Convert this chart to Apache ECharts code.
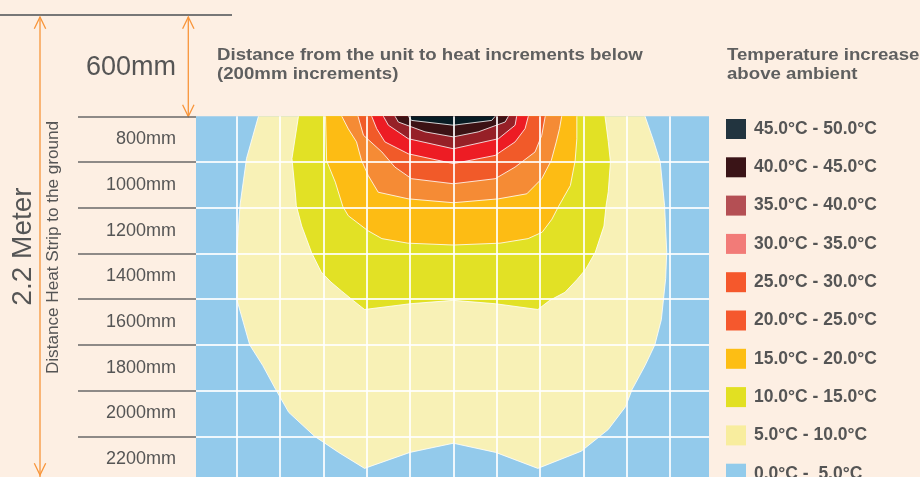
<!DOCTYPE html>
<html>
<head>
<meta charset="utf-8">
<style>
html,body{margin:0;padding:0;background:#fdefe3;}
#chart{width:920px;height:477px;}
</style>
<script src="https://cdn.jsdelivr.net/npm/echarts@6/dist/echarts.min.js"></script>
</head>
<body>
<div id="chart"></div>
<script>
// ---- data (mm) ----
const rowLabels = ['800mm','1000mm','1200mm','1400mm','1600mm','1800mm','2000mm','2200mm'];
const legendLabels = ['45.0°C - 50.0°C','40.0°C - 45.0°C','35.0°C - 40.0°C','30.0°C - 35.0°C','25.0°C - 30.0°C','20.0°C - 25.0°C','15.0°C - 20.0°C','10.0°C - 15.0°C','5.0°C - 10.0°C','0.0°C -  5.0°C'];

// contour boundaries: [horizontal offset from unit (mm), distance below strip (mm)]
const band0to5 = [[-1188,600],[1180,600],[1180,2200],[-1188,2200]];
const band5to10 = [[-900,600],[-955,785],[-985,990],[-1000,1195],[-1000,1400],[-970,1500],[-940,1600],[-880,1690],[-820,1795],[-760,1895],[-640,2000],[-530,2070],[-410,2140],[-200,2070],[0,2030],[195,2070],[390,2140],[590,2065],[715,1970],[795,1870],[825,1795],[885,1690],[930,1600],[960,1490],[980,1310],[985,1195],[975,990],[955,800],[925,710],[885,600]];
const band10to15 = [[-715,600],[-745,785],[-730,930],[-725,990],[-700,1080],[-655,1195],[-610,1281],[-565,1325],[-515,1365],[-470,1400],[-410,1445],[-200,1420],[0,1405],[195,1420],[390,1445],[445,1405],[515,1370],[570,1315],[610,1270],[655,1195],[695,1080],[705,990],[715,930],[725,800],[715,710],[700,600]];
const band15to20 = [[-590,600],[-585,795],[-545,888],[-510,995],[-485,1035],[-395,1100],[-330,1135],[-210,1155],[0,1163],[215,1155],[345,1135],[410,1107],[455,1050],[485,995],[540,903],[562,795],[570,698],[570,600]];
const band20to25 = [[-515,600],[-485,655],[-447,712],[-424,793],[-393,859],[-347,932],[-208,961],[0,978],[208,961],[339,939],[408,873],[452,793],[475,712],[490,654],[500,600]];
const band25to30 = [[-440,600],[-415,683],[-330,756],[-270,822],[-193,873],[0,895],[193,873],[285,822],[377,756],[408,683],[424,600]];
const band30to35 = [[-377,600],[-354,654],[-316,712],[-208,764],[0,807],[193,771],[285,712],[331,654],[346,600]];
const band35to40 = [[-323,600],[-300,639],[-208,698],[0,742],[208,698],[285,639],[292,600]];
const band40to45 = [[-269,600],[-254,625],[-131,668],[0,690],[115,668],[239,625],[254,600]];
const band45to50 = [[-208,600],[-193,618],[0,639],[177,618],[193,600]];

// ---- styling ----
const FONT = '"Liberation Sans", Arial, sans-serif';
const mapColors = ['#93caeb','#f8f1b6','#e2e125','#fdbc14','#f58b35','#f15a29','#ed1c24','#962027','#3b1214','#071c24'];
const keyColors = ['#92cbeb','#f8ed9e','#e2e022','#fdbe14','#f5582d','#f5582c','#f27b78','#b44f54','#3a1417','#22343f'];
const contours = [band0to5, band5to10, band10to15, band15to20, band20to25, band25to30, band30to35, band35to40, band40to45, band45to50];
const names = legendLabels.slice().reverse();

function polySeries(i) {
  const pts = contours[i];
  const outline = i > 0;
  return {
    type: 'custom',
    name: names[i],
    coordinateSystem: 'cartesian2d',
    xAxisIndex: 0, yAxisIndex: 0,
    silent: true,
    animation: false,
    z: 2 + i * 0.01,
    itemStyle: { color: mapColors[i] },
    data: [pts[0]],
    renderItem: function (params, api) {
      const p = pts.map(q => api.coord(q));
      const children = [{ type: 'polygon', shape: { points: p }, style: { fill: mapColors[i], stroke: null } }];
      if (outline) children.push({ type: 'polyline', shape: { points: p }, style: { stroke: 'rgba(255,255,255,0.8)', lineWidth: 1, fill: null } });
      return { type: 'group', children: children };
    }
  };
}

const series = contours.map((c, i) => polySeries(i));

const ORANGE = '#f8953a';
function arrowHead(x, y, dir) {
  return { type: 'polyline', shape: { points: [[x - 5.7, y + dir * 11.7], [x, y], [x + 5.7, y + dir * 11.7]] }, style: { stroke: ORANGE, lineWidth: 1.3, fill: null } };
}

const chart = echarts.init(document.getElementById('chart'), null, { renderer: 'canvas' });
chart.setOption({
  backgroundColor: '#fdefe3',
  animation: false,
  grid: { left: 196, top: 116.3, width: 513, height: 365.8, outerBoundsMode: 'none', containLabel: false },
  xAxis: {
    type: 'value', min: -1188, max: 1180, splitNumber: 12, z: 10,
    axisLabel: { show: false }, axisTick: { show: false }, axisLine: { show: false, onZero: false },
    splitLine: { show: true, showMinLine: false, showMaxLine: false, lineStyle: { color: 'rgba(255,255,255,0.85)', width: 2 } }
  },
  yAxis: [
    {
      type: 'value', min: 600, max: 2200, interval: 200, inverse: true, z: 10,
      axisLabel: { show: false },
      axisLine: { show: false, onZero: false },
      axisTick: { show: true, length: 118, lineStyle: { color: '#6a6a6a', width: 1.5 } },
      splitLine: { show: true, showMinLine: false, showMaxLine: false, lineStyle: { color: 'rgba(255,255,255,0.85)', width: 2 } }
    },
    {
      type: 'category', data: rowLabels, inverse: true, boundaryGap: true, position: 'left',
      axisLine: { show: false, onZero: false }, axisTick: { show: false }, splitLine: { show: false },
      axisLabel: { margin: 20, fontSize: 18, color: '#555', fontFamily: FONT }
    }
  ],
  legend: {
    orient: 'vertical', left: 726, top: 119, height: 420, padding: 0,
    itemWidth: 20, itemHeight: 20, itemGap: 18.3, icon: 'rect',
    selectedMode: false,
    textStyle: { fontSize: 17.5, fontWeight: 'bold', color: '#555', fontFamily: FONT, padding: [0, 0, 0, 3] },
    data: legendLabels.map((n, k) => ({ name: n, itemStyle: { color: keyColors[9 - k] } }))
  },
  graphic: [
    { type: 'line', shape: { x1: 0, y1: 15, x2: 232, y2: 15 }, style: { stroke: '#777', lineWidth: 2 } },
    { type: 'line', shape: { x1: 40, y1: 17, x2: 40, y2: 477 }, style: { stroke: ORANGE, lineWidth: 1.3 } },
    arrowHead(40, 17, 1), arrowHead(40, 475, -1),
    { type: 'line', shape: { x1: 188.3, y1: 17, x2: 188.3, y2: 116.5 }, style: { stroke: ORANGE, lineWidth: 1.3 } },
    arrowHead(188.3, 17, 1), arrowHead(188.3, 116.5, -1),
    { type: 'text', x: 86, y: 68, style: { text: '600mm', fontSize: 27, fill: '#555', fontFamily: FONT, verticalAlign: 'middle', align: 'left' } },
    { type: 'text', x: 23, y: 246.5, rotation: Math.PI / 2, style: { text: '2.2 Meter', fontSize: 28, fill: '#555', fontFamily: FONT, verticalAlign: 'middle', align: 'center' } },
    { type: 'text', x: 54, y: 247.5, rotation: Math.PI / 2, style: { text: 'Distance Heat Strip to the ground', fontSize: 16, fill: '#555', fontFamily: FONT, verticalAlign: 'middle', align: 'center' }, scaleX: 1.07 },
    { type: 'text', x: 217, y: 45.5, scaleX: 1.13, style: { text: 'Distance from the unit to heat increments below\n(200mm increments)', fontSize: 16.5, fontWeight: 'bold', lineHeight: 19, fill: '#5f5f5f', fontFamily: FONT, verticalAlign: 'top', align: 'left' } },
    { type: 'text', x: 727, y: 45.5, scaleX: 1.13, style: { text: 'Temperature increase\nabove ambient', fontSize: 16.5, fontWeight: 'bold', lineHeight: 19, fill: '#5f5f5f', fontFamily: FONT, verticalAlign: 'top', align: 'left' } }
  ],
  series: series
});
</script>
</body>
</html>
